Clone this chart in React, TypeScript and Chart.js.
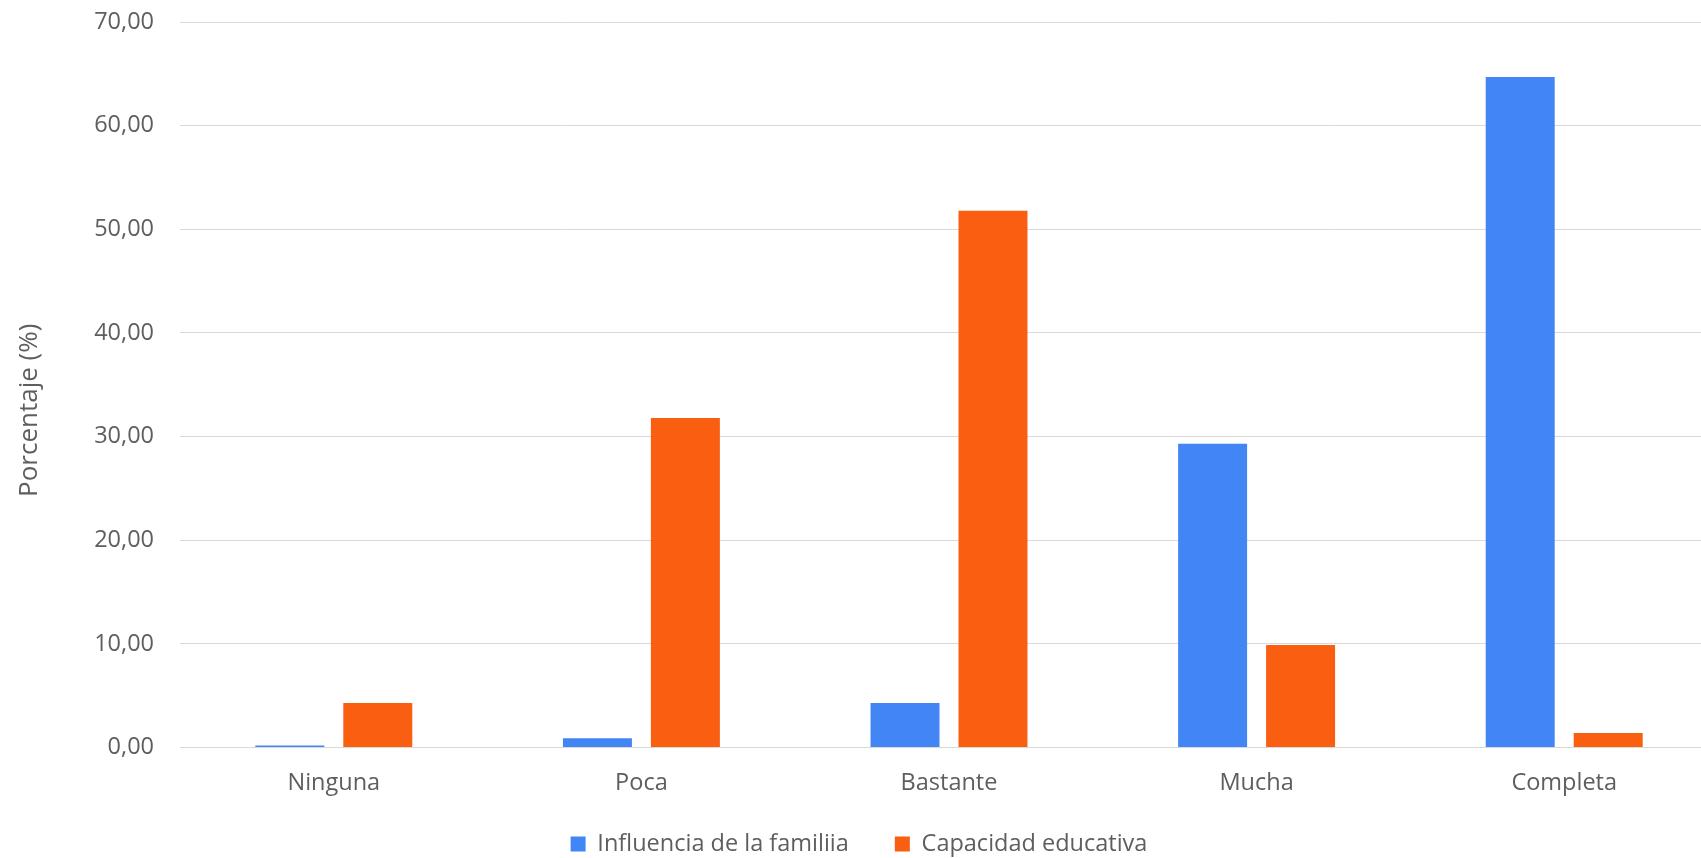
import { useEffect, useRef } from 'react';
import { Chart, registerables } from 'chart.js';

Chart.register(...registerables);

const categories = ['Ninguna', 'Poca', 'Bastante', 'Mucha', 'Completa'];
const familiaValues = [0.2, 0.9, 4.3, 29.3, 64.7];
const capacidadValues = [4.3, 31.8, 51.8, 9.9, 1.4];
const seriesNames = ['Influencia de la familiia', 'Capacidad educativa'];
const yAxisTitle = 'Porcentaje (%)';
const yMin = 0;
const yMax = 70;
const yStep = 10;

const FONT = "'Open Sans', sans-serif";
const TEXT = '#5e5e5e';
const BLUE = '#4285F4';
const ORANGE = '#F95E11';

export default function App() {
  const ref = useRef<HTMLCanvasElement>(null);

  useEffect(() => {
    if (!ref.current) return;

    const yTitlePlugin = {
      id: 'yTitlePlugin',
      afterDraw(chart: any) {
        const { ctx, chartArea } = chart;
        ctx.save();
        ctx.translate(30, (chartArea.top + chartArea.bottom) / 2 + 25.5);
        ctx.rotate(-Math.PI / 2);
        ctx.font = `26px ${FONT}`;
        ctx.fillStyle = TEXT;
        ctx.textAlign = 'center';
        ctx.textBaseline = 'middle';
        ctx.fillText(yAxisTitle, 0, 0);
        ctx.restore();
      },
    };

    const legendShiftPlugin = {
      id: 'legendShiftPlugin',
      afterLayout(chart: any) {
        const lg = chart.legend;
        if (lg) {
          lg.top -= 13.25;
          lg.bottom -= 13.25;
        }
      },
    };

    const chart = new Chart(ref.current, {
      type: 'bar',
      data: {
        labels: categories,
        datasets: [
          {
            label: seriesNames[0],
            data: familiaValues,
            backgroundColor: BLUE,
            borderWidth: 0,
            categoryPercentage: 0.572,
            barPercentage: 0.784,
          },
          {
            label: seriesNames[1],
            data: capacidadValues,
            backgroundColor: ORANGE,
            borderWidth: 0,
            categoryPercentage: 0.572,
            barPercentage: 0.784,
          },
        ],
      },
      options: {
        responsive: false,
        animation: false,
        events: [],
        layout: { padding: { left: 0, right: 2, top: 22, bottom: 0 } },
        scales: {
          x: {
            grid: { display: false, drawTicks: false },
            border: { display: false },
            ticks: {
              padding: 22,
              color: TEXT,
              font: { family: FONT, size: 23.5 },
              maxRotation: 0,
            },
            afterFit(scale: any) {
              scale.height = 52;
            },
          },
          y: {
            min: yMin,
            max: yMax,
            grid: { color: '#d9d9d9', lineWidth: 1, drawTicks: false },
            border: { display: false },
            ticks: {
              stepSize: yStep,
              padding: 26,
              color: TEXT,
              font: { family: FONT, size: 23.5 },
              callback: (v: any) => Number(v).toFixed(2).replace('.', ','),
            },
            title: { display: false },
            afterFit(scale: any) {
              scale.width = 180;
              scale.paddingTop = 0;
              scale.paddingBottom = 0;
            },
          },
        },
        plugins: {
          legend: {
            position: 'bottom',
            labels: {
              boxWidth: 15,
              boxHeight: 15,
              padding: 46,
              color: TEXT,
              font: { family: FONT, size: 23.5 },
            },
          },
          tooltip: { enabled: false },
        },
      },
      plugins: [yTitlePlugin, legendShiftPlugin],
    } as any);

    return () => chart.destroy();
  }, []);

  return (
    <div
      style={{
        position: 'fixed',
        left: 0,
        top: 0,
        width: 1701,
        height: 858,
        overflow: 'hidden',
        background: '#ffffff',
      }}
    >
      <canvas ref={ref} width={1720} height={879} style={{ display: 'block' }} />
    </div>
  );
}
